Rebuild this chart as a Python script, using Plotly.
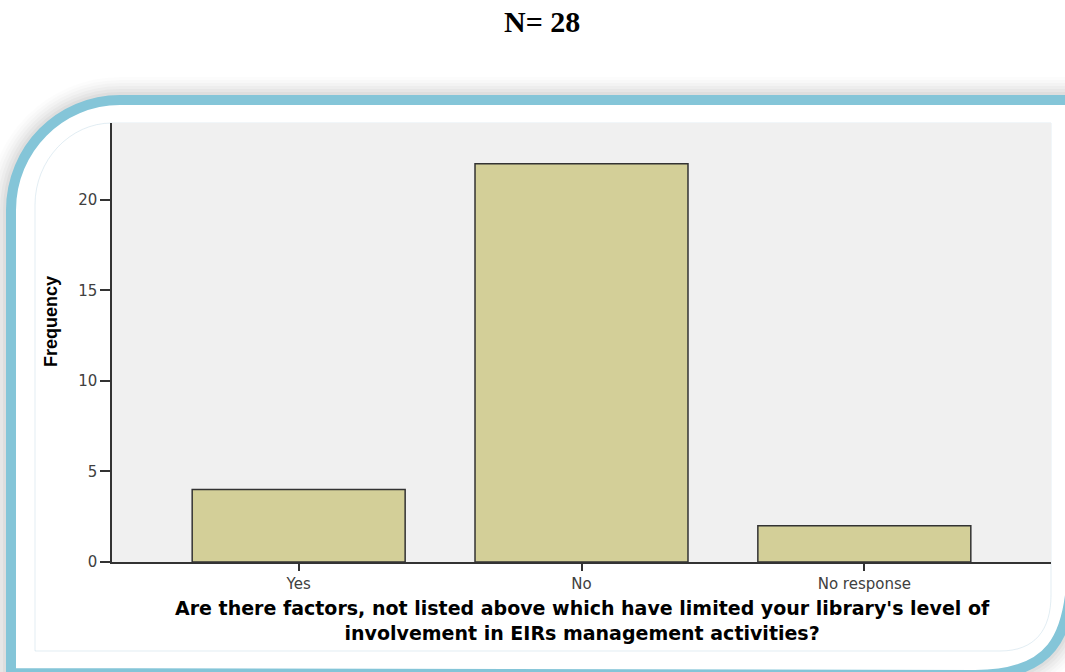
import plotly.graph_objects as go

# Survey responses
categories = ["Yes", "No", "No response"]
frequencies = [4, 22, 2]
y_ticks = [0, 5, 10, 15, 20]

W, H = 1065, 672
# plot area in pixels
L, R, T, B = 112, 1051, 123, 562


def px(x):
    return (x - L) / (R - L)


def py(y):
    return (B - y) / (B - T)


def path(cmds):
    """Build an SVG path in paper units from pixel-space commands."""
    out = []
    for c in cmds:
        op, pts = c[0], c[1:]
        coords = " ".join(f"{px(pts[i]):.5f},{py(pts[i + 1]):.5f}" for i in range(0, len(pts), 2))
        out.append(f"{op} {coords}".strip())
    return " ".join(out)


frame = path([
    ("M", 11, 673),
    ("L", 11, 210),
    ("C", 11, 149, 60, 100, 120, 100),
    ("L", 1072, 100),
    ("L", 1072, 560),
    ("C", 1072, 640, 1050, 675, 975, 675),
    ("Z",),
])

inner = path([
    ("M", 35, 651),
    ("L", 35, 205),
    ("C", 35, 160, 70, 123, 112, 123),
    ("L", 1051, 123),
    ("L", 1051, 595),
    ("C", 1051, 630, 1035, 651, 1000, 651),
    ("Z",),
])

shapes = []
# soft grey shadow around the frame
for w, a in [(46, 0.012), (40, 0.015), (34, 0.018), (28, 0.022), (22, 0.026), (16, 0.03)]:
    shapes.append(dict(type="path", path=frame, xref="paper", yref="paper", layer="below",
                       line=dict(color=f"rgba(0,0,0,{a})", width=w), fillcolor="rgba(0,0,0,0)"))
# blue rounded frame with white inside
shapes.append(dict(type="path", path=frame, xref="paper", yref="paper", layer="below",
                   line=dict(color="#84c5d8", width=10), fillcolor="white"))
shapes.append(dict(type="path", path=inner, xref="paper", yref="paper", layer="below",
                   line=dict(color="rgba(160,195,215,0.3)", width=1), fillcolor="rgba(0,0,0,0)"))
# grey plot background
shapes.append(dict(type="rect", xref="paper", yref="paper", x0=0, x1=1, y0=0, y1=1, layer="below",
                   line=dict(width=0), fillcolor="#f0f0f0"))

fig = go.Figure(go.Bar(
    x=categories,
    y=frequencies,
    marker=dict(color="#d3cf98", line=dict(color="#333333", width=1.5)),
    width=0.753,
    hoverinfo="x+y",
))

annotations = [
    dict(text="<b>N= 28</b>", x=px(542), y=py(22), xref="paper", yref="paper",
         showarrow=False, xanchor="center", yanchor="middle",
         font=dict(family="Liberation Serif", size=30, color="black")),
    dict(text="<b>Frequency</b>", x=px(51), y=py(321), xref="paper", yref="paper",
         showarrow=False, textangle=-90, xanchor="center", yanchor="middle",
         font=dict(family="Liberation Sans", size=18, color="black")),
    dict(text="<b>Are there factors, not listed above which have limited your library's level of"
              "<br>involvement in EIRs management activities?</b>",
         x=px(582), y=py(620), xref="paper", yref="paper", showarrow=False,
         xanchor="center", yanchor="middle", align="center",
         font=dict(family="DejaVu Sans", size=19, color="black")),
]

fig.update_layout(
    width=W, height=H,
    margin=dict(l=L, r=W - R, t=T, b=H - B, pad=0),
    paper_bgcolor="white",
    plot_bgcolor="rgba(0,0,0,0)",
    shapes=shapes,
    annotations=annotations,
    showlegend=False,
    xaxis=dict(
        type="category",
        range=[-0.66, 2.66],
        showgrid=False, zeroline=False,
        showline=True, linecolor="#333333", linewidth=1.5,
        ticks="outside", ticklen=7, tickwidth=1.5, tickcolor="#333333",
        tickfont=dict(family="DejaVu Sans", size=15, color="#404040"),
        fixedrange=True,
    ),
    yaxis=dict(
        range=[0, 24.25],
        tickvals=y_ticks,
        showgrid=False, zeroline=False,
        showline=True, linecolor="#333333", linewidth=1.5,
        ticks="outside", ticklen=10, tickwidth=1.5, tickcolor="#333333",
        tickfont=dict(family="DejaVu Sans", size=15, color="#404040"),
        fixedrange=True,
    ),
)

fig.write_html("out.html")
